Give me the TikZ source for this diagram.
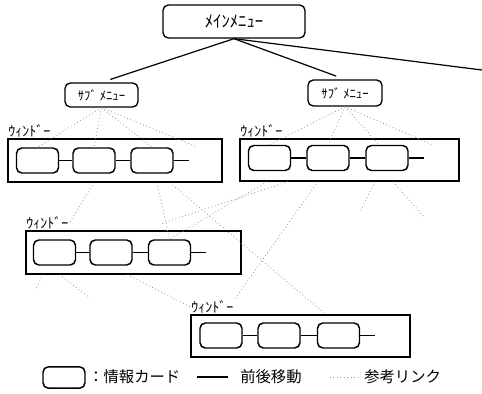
\documentclass[tikz,border=0pt]{standalone}
\usepackage{fontspec}
\newfontfamily\jpfont{Noto Sans CJK JP}
\usepackage{tikz}
\usetikzlibrary{positioning,calc}

\begin{document}
\begin{tikzpicture}[x=0.75pt, y=-0.75pt,
      menu/.style={rectangle, draw, line width=1pt, rounded corners=4pt,
                   inner sep=0pt, font=\jpfont\fontsize{9.5}{10}\selectfont},
      win/.style={rectangle, draw, line width=1pt, inner sep=0pt},
      card/.style={rectangle, draw, line width=1.1pt, rounded corners=4pt,
                   minimum width=31.5pt, minimum height=18.75pt, inner sep=0pt},
      winlbl/.style={anchor=south west, inner sep=0.6pt,
                     font=\jpfont\fontsize{10.5}{11}\selectfont},
      move/.style={line width=0.9pt},
      link/.style={dotted, gray!85, line width=0.6pt},
      key/.style={anchor=west, inner sep=0pt, font=\jpfont\fontsize{11.5}{12}\selectfont},
    ]
    \useasboundingbox (0,0) rectangle (482,393);

    % Menus
    \node[menu, minimum width=106.5pt, minimum height=24.75pt,
          font=\jpfont\fontsize{12.5}{13}\selectfont] (main) at (234,21.5) {ﾒｲﾝﾒﾆｭｰ};
    \node[menu, minimum width=54.75pt, minimum height=18pt] (sub1) at (101.5,95) {ｻﾌﾞ ﾒﾆｭｰ};
    \node[menu, minimum width=55.5pt, minimum height=19.5pt] (sub2) at (345,93) {ｻﾌﾞ ﾒﾆｭｰ};
    \coordinate (off) at (482,70);

    % Window 1 -- top left
    \node[win, minimum width=160.5pt, minimum height=32.25pt] (w1) at (115,160.5) {};
    \node[winlbl] (l1) at (w1.north west) {ｳｨﾝﾄﾞｰ};
    \node[card] (c11) at (37.5,160.5) {};
    \node[card] (c12) at (94,160.5) {};
    \node[card] (c13) at (152,160.5) {};

    % Window 2 -- top right
    \node[win, minimum width=164.25pt, minimum height=31.5pt] (w2) at (349.5,160) {};
    \node[winlbl] (l2) at (w2.north west) {ｳｨﾝﾄﾞｰ};
    \node[card] (c21) at (269.5,158) {};
    \node[card] (c22) at (328,158) {};
    \node[card] (c23) at (387,158) {};

    % Window 3 -- middle left
    \node[win, minimum width=161.25pt, minimum height=32.25pt] (w3) at (133.5,252.5) {};
    \node[winlbl] (l3) at (w3.north west) {ｳｨﾝﾄﾞｰ};
    \node[card] (c31) at (54.5,252.5) {};
    \node[card] (c32) at (111,252.5) {};
    \node[card] (c33) at (169.5,252.5) {};

    % Window 4 -- bottom
    \node[win, minimum width=164.25pt, minimum height=31.5pt] (w4) at (300.5,336) {};
    \node[winlbl] (l4) at (w4.north west) {ｳｨﾝﾄﾞｰ};
    \node[card] (c41) at (221,335.5) {};
    \node[card] (c42) at (279,335.5) {};
    \node[card] (c43) at (338.5,335.5) {};

    % Loose ends of the links
    \coordinate (d1) at (197,147);
    \coordinate (d2) at (433,145);
    \coordinate (d3) at (160,224);
    \coordinate (d4) at (360,212);
    \coordinate (d5) at (425,218);
    \coordinate (d6) at (35,290);
    \coordinate (d7) at (90,298);

    % Menu tree
    \draw[move, shorten >=7pt] (main.south) -- (sub1.north);
    \draw[move, shorten >=7pt] (main.south) -- (sub2.north);
    \draw[move] (main.south) -- (off);

    % Back and forth between cards
    \draw[move] (c11) -- (c12);
    \draw[move] (c12) -- (c13);
    \draw[move] (c13.east) -- ++(15,0);
    \draw[move] (c21) -- (c22);
    \draw[move] (c22) -- (c23);
    \draw[move] (c23.east) -- ++(15,0);
    \draw[move] (c31) -- (c32);
    \draw[move] (c32) -- (c33);
    \draw[move] (c33.east) -- ++(15,0);
    \draw[move] (c41) -- (c42);
    \draw[move] (c42) -- (c43);
    \draw[move] (c43.east) -- ++(15,0);

    % Links: sub menus to windows
    \draw[link] (sub1.south) -- (c11.north);
    \draw[link] (sub1.south) -- (c12.north);
    \draw[link] (sub1.south) -- (c13.north);
    \draw[link] (sub1.south) -- (d1);
    \draw[link] (sub2.south) -- (c21.north);
    \draw[link] (sub2.south) -- (c22.north);
    \draw[link] (sub2.south) -- ($(c23.north)+(-8,0)$);
    \draw[link] (sub2.south) -- (d2);

    % Links: between windows
    \draw[link] ($(w1.south)+(-21,0)$) -- (l3.east);
    \draw[link] ($(w1.south)+(42,0)$) -- (c33.north);
    \draw[link] ($(w1.south)+(55,0)$) -- ($(w4.north)+(25,0)$);
    \draw[link] ($(w2.south)+(-61.5,0)$) -- (d3);
    \draw[link] ($(w2.south)+(-82.5,0)$) -- (c33.north);
    \draw[link] ($(w2.south)+(-31.5,0)$) -- (l4.north east);
    \draw[link] ($(w2.south)+(25.5,0)$) -- (d4);
    \draw[link] ($(w2.south)+(43.5,0)$) -- (d5);
    \draw[link] ($(w3.south)+(-90,0)$) -- (d6);
    \draw[link] ($(w3.south)+(-74,0)$) -- (d7);
    \draw[link] ($(w3.south)+(-6,0)$) -- (l4.west);

    % Legend
    \node[card, minimum height=16pt] (keycard) at (64,377.5) {};
    \node[key] (keycardtxt) at (88,377) {：情報カード};
    \coordinate (keymoveA) at (197,377);
    \coordinate (keymoveB) at (228,377);
    \draw[move] (keymoveA) -- (keymoveB);
    \node[key] (keymovetxt) at (240,377) {前後移動};
    \coordinate (keylinkA) at (330,377);
    \coordinate (keylinkB) at (361,377);
    \draw[link] (keylinkA) -- (keylinkB);
    \node[key] (keylinktxt) at (364,377) {参考リンク};

    \end{tikzpicture}
\end{document}
